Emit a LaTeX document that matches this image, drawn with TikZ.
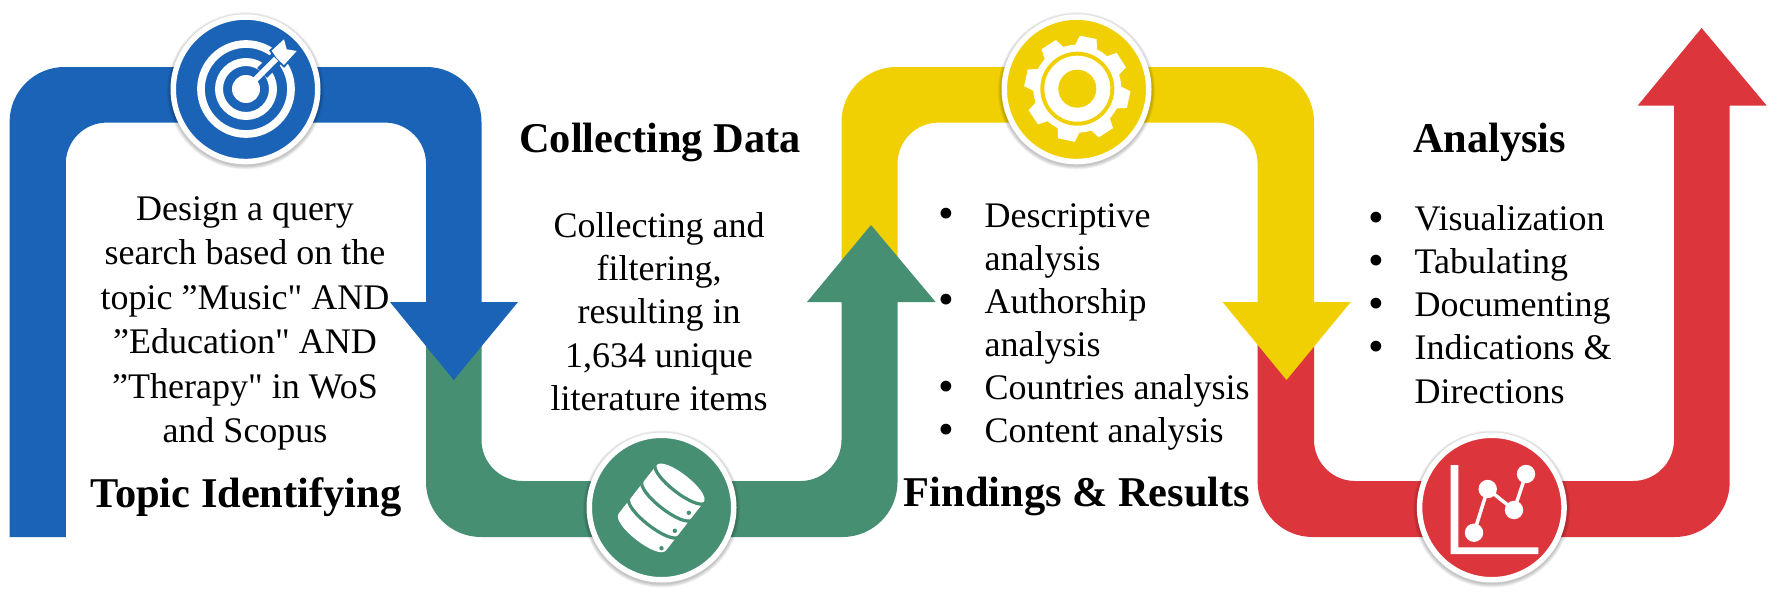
\documentclass[tikz,border=0pt]{standalone}
\usepackage{fontspec}
\setmainfont[Ligatures=TeXOff]{Liberation Serif}
\definecolor{cblue}{RGB}{26,99,183}
\definecolor{cgreen}{RGB}{70,143,115}
\definecolor{cyellow}{RGB}{240,208,2}
\definecolor{cred}{RGB}{220,53,59}
\newcommand{\blt}{\makebox[46.5pt][l]{\raisebox{-1.5pt}{\scalebox{1.25}{•}}}}
\tikzset{
  headtext/.style={font=\fontsize{42.4}{50}\selectfont\bfseries, inner sep=0pt, anchor=base},
  bodytext/.style={inner sep=0pt, align=center},
  listtext/.style={inner sep=0pt, align=left, anchor=west},
  badge/.style={circle, draw=white, line width=5.5pt, minimum size=144.5pt, inner sep=0pt, outer sep=0pt},
}
\newcommand{\softshadow}[1]{%
  \foreach \rr in {78.5,77.5,76.5,75.5}{\fill[black,opacity=.06] ($(#1)+(0,1.5)$) circle[radius=\rr pt];}}
\usetikzlibrary{calc}
\begin{document}
\begin{tikzpicture}[x=1pt,y=-1pt]
\useasboundingbox (0,0) rectangle (1772,597);
\fill[white] (0,0) rectangle (1772,597);

% ribbons, back to front
\fill[cred] (1257.6,302) -- (1257.6,482) .. controls (1257.6,512.4) and (1282.2,537) .. (1312.6,537)
  -- (1674.7,537) .. controls (1705.1,537) and (1729.7,512.4) .. (1729.7,482)
  -- (1729.7,105.5) -- (1766.6,105.5) -- (1701.6,28) -- (1637.8,105.5) -- (1674,105.5)
  -- (1674,440) .. controls (1674,462.6) and (1655.6,481) .. (1633,481)
  -- (1355,481) .. controls (1332.4,481) and (1314,462.6) .. (1314,440)
  -- (1314,302) -- cycle;
\fill[cyellow] (841.5,302) -- (841.5,122) .. controls (841.5,91.6) and (866.1,67) .. (896.5,67)
  -- (1259,67) .. controls (1289.4,67) and (1314,91.6) .. (1314,122)
  -- (1314,302) -- (1350.7,302) -- (1286.5,380) -- (1222.6,302) -- (1257.6,302)
  -- (1257.6,163.6) .. controls (1257.6,141) and (1239.2,122.6) .. (1216.6,122.6)
  -- (938.5,122.6) .. controls (915.9,122.6) and (897.5,141) .. (897.5,163.6)
  -- (897.5,302) -- cycle;
\fill[cgreen] (426,302) -- (426,482) .. controls (426,512.4) and (450.6,537) .. (481,537)
  -- (842.5,537) .. controls (872.9,537) and (897.5,512.4) .. (897.5,482)
  -- (897.5,302) -- (935.6,302) -- (871,225) -- (807,302) -- (841.5,302)
  -- (841.5,440) .. controls (841.5,462.6) and (823.1,481) .. (800.5,481)
  -- (522.5,481) .. controls (499.9,481) and (481.5,462.6) .. (481.5,440)
  -- (481.5,302) -- cycle;
\fill[cblue] (9.6,537) -- (9.6,122) .. controls (9.6,91.6) and (34.2,67) .. (64.6,67)
  -- (426.5,67) .. controls (456.9,67) and (481.5,91.6) .. (481.5,122)
  -- (481.5,302) -- (518,302) -- (453.7,380) -- (390,302) -- (426,302)
  -- (426,163.6) .. controls (426,141) and (407.6,122.6) .. (385,122.6)
  -- (106.8,122.6) .. controls (84.2,122.6) and (65.8,141) .. (65.8,163.6)
  -- (65.8,537) -- cycle;

% badges
\coordinate (pa) at (245.5,89.3);
\coordinate (pb) at (661.5,507.5);
\coordinate (pc) at (1076.5,89.3);
\coordinate (pd) at (1491.8,507.5);
\softshadow{pa}\softshadow{pb}\softshadow{pc}\softshadow{pd}
\node[badge,fill=cblue] (badgeA) at (pa) {};
\node[badge,fill=cgreen] (badgeB) at (pb) {};
\node[badge,fill=cyellow] (badgeC) at (pc) {};
\node[badge,fill=cred] (badgeD) at (pd) {};

% target icon
\draw[white,line width=7.7pt] (246,89) circle[radius=45pt];
\draw[white,line width=8pt] (246,89) circle[radius=27pt];
\fill[white] (246,89) circle[radius=14pt];
\draw[cblue,line width=14pt] (262,73) -- (280,55);
\draw[cblue,line width=4pt,fill=cblue] (271.7,50.7) -- (284,39.3) -- (286.7,49.3) -- (296.7,51) -- (284,65) -- (276.7,58.3) -- cycle;
\draw[white,line width=6pt] (246,89) -- (276,59);
\fill[white] (271.7,50.7) -- (284,39.3) -- (286.7,49.3) -- (296.7,51) -- (284,65) -- (276.7,58.3) -- cycle;

% database icon
\begin{scope}[shift={(pb)},rotate=-38]
  \fill[white] (-30,-30) .. controls (-30,-43.3) and (30,-43.3) .. (30,-30)
    -- (30,31) .. controls (30,44.3) and (-30,44.3) .. (-30,31) -- cycle;
  \foreach \yy in {-31,-9.5,12}{
    \draw[cgreen,line width=3.2pt] (-32,\yy) .. controls (-30,\yy+13) and (30,\yy+13) .. (32,\yy);
  }
\end{scope}
\fill[cgreen] ($(pb)+(27.3,5.3)$) circle[radius=2.2pt];
\fill[cgreen] ($(pb)+(13.3,23.3)$) circle[radius=2.2pt];
\fill[cgreen] ($(pb)+(0,40.7)$) circle[radius=2.2pt];

% gear icon
\begin{scope}[shift={(1077.3,88.7)}]
  \fill[white] (0,0) circle[radius=44pt];
  \foreach \aa in {-12,33,78,123,168,213,258,303}{
    \fill[white,rotate=\aa] (-11.5,-41) -- (-8.5,-52.5) -- (8.5,-52.5) -- (11.5,-41) -- cycle;
  }
  \fill[cyellow] (0,0) circle[radius=37pt];
  \fill[white] (0,0) circle[radius=33pt];
  \fill[cyellow] (0,0) circle[radius=19pt];
\end{scope}

% chart icon
\fill[white] (1450.7,465) -- (1458.3,465) -- (1458.3,547.3) -- (1538.3,547.3) -- (1538.3,554) -- (1450.7,554) -- cycle;
\draw[white,line width=3.5pt] (1474,532.7) -- (1487.7,489) -- (1514,510) -- (1526,474);
\foreach \px/\py in {1474/532.7,1487.7/489,1514/510,1526/474}{
  \fill[white] (\px,\py) circle[radius=9.2pt];
}

% texts
\node[headtext] (h1) at (246,507.5) {Topic Identifying};
\node[headtext] (h2) at (660,152) {Collecting Data};
\node[headtext] (h3) at (1077,506.5) {Findings \& Results};
\node[headtext] (h4) at (1489.6,152) {Analysis};

\node[bodytext,font=\fontsize{36}{44.5}\selectfont] (t1) at (245,323.5) {Design a query\\search based on the\\topic ”Music" AND\\”Education" AND\\”Therapy" in WoS\\and Scopus};
\node[bodytext,font=\fontsize{36}{43.4}\selectfont] (t2) at (659,311.6) {Collecting and\\filtering,\\resulting in\\1,634 unique\\literature items};
\node[listtext,font=\fontsize{36}{43.1}\selectfont] (t3) at (938,327) {\blt Descriptive\\\hspace*{46.5pt}analysis\\\blt Authorship\\\hspace*{46.5pt}analysis\\\blt Countries analysis\\\blt Content analysis};
\node[listtext,font=\fontsize{36}{43.1}\selectfont] (t4) at (1368,304.5) {\blt Visualization\\\blt Tabulating\\\blt Documenting\\\blt Indications \&\\\hspace*{46.5pt}Directions};
\end{tikzpicture}
\end{document}
